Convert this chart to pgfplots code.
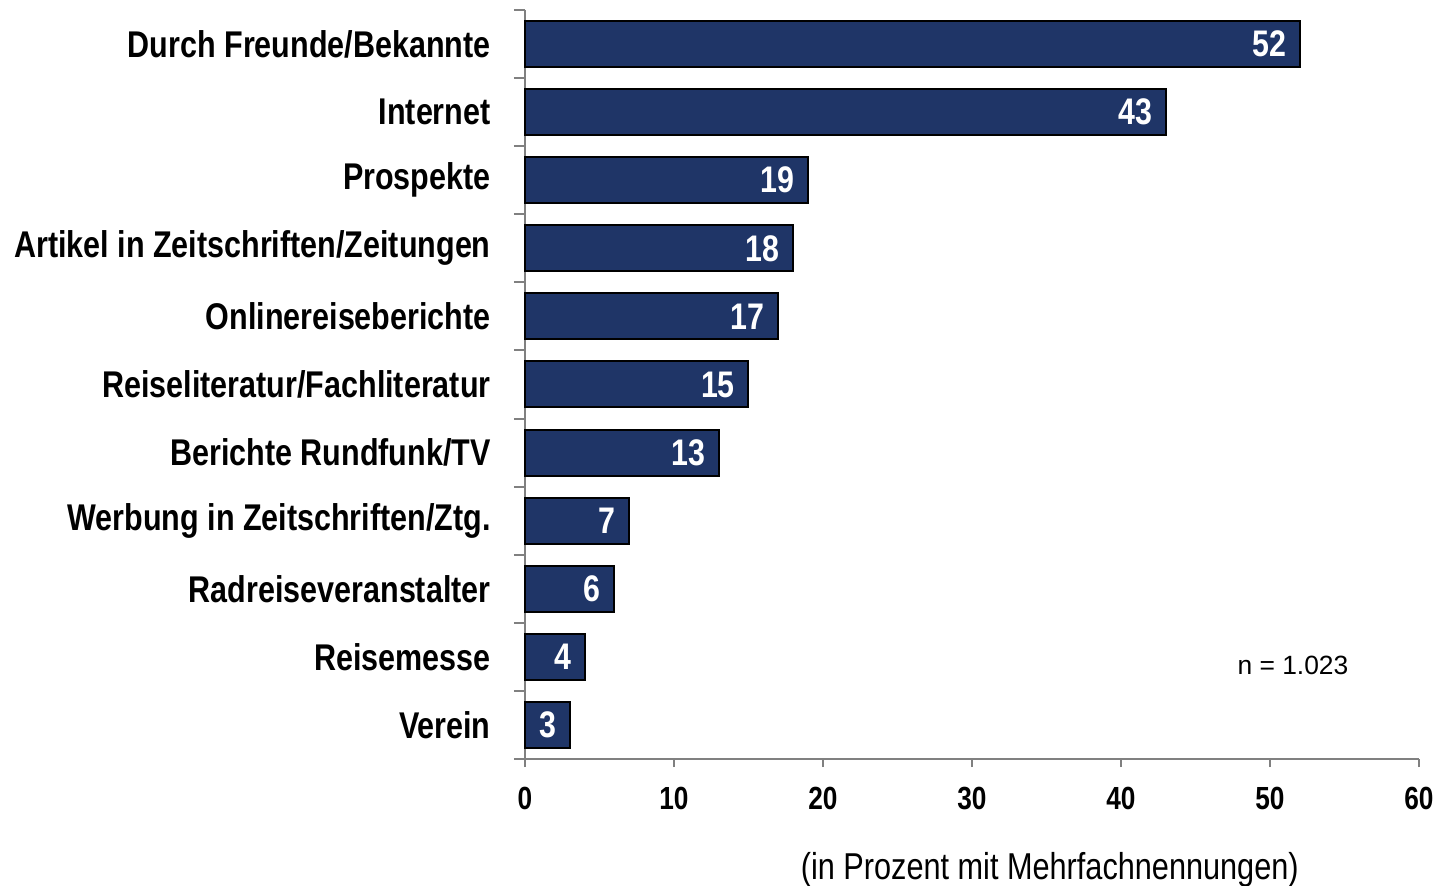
\documentclass[border=0pt]{standalone}
\usepackage{pgfplots}
\pgfplotsset{compat=1.18}
\usepackage{fontspec}
\setmainfont{Liberation Sans}[FakeStretch=0.82]
\newfontfamily\arialreg{Liberation Sans}
\definecolor{barblue}{RGB}{31,53,103}
\definecolor{axgray}{RGB}{128,128,128}
\begin{document}
\begin{tikzpicture}
\begin{axis}[
  name=ax,
  scale only axis,
  width=447pt, height=374.5pt,
  xbar, bar width=23pt,
  xmin=0, xmax=60,
  ymin=-0.5, ymax=10.5,
  y dir=reverse,
  axis x line*=bottom, axis y line*=left,
  axis line style={axgray, line width=1pt},
  tick align=outside,
  xtick={0,10,...,60},
  x tick style={axgray, line width=1pt},
  major tick length=4pt,
  ytick={0,...,10},
  major y tick style={draw=none},
  minor ytick={-0.5,0.5,...,10.5},
  minor y tick style={axgray, line width=1pt},
  minor tick length=5.5pt,
  yticklabels={Durch Freunde/Bekannte, Internet, Prospekte, Artikel in Zeitschriften/Zeitungen, Onlinereiseberichte, Reiseliteratur/Fachliteratur, Berichte Rundfunk/TV, Werbung in Zeitschriften/Ztg., Radreiseveranstalter, Reisemesse, Verein},
  yticklabel style={font=\bfseries\fontsize{18.6}{21}\selectfont, inner sep=0pt, xshift=-13pt},
  xticklabel style={font=\bfseries\fontsize{16}{19}\selectfont, inner sep=0pt, yshift=-10pt},
  /pgf/number format/assume math mode=true,
  nodes near coords,
  every node near coord/.append style={anchor=east, xshift=-3pt, text=white, font=\bfseries\fontsize{18.5}{20}\selectfont},
  clip=false,
]
\addplot[fill=barblue, draw=black, line width=1pt] coordinates {
(52,0) (43,1) (19,2) (18,3) (17,4) (15,5) (13,6) (7,7) (6,8) (4,9) (3,10)
};
\node[font=\arialreg\fontsize{13.2}{16}\selectfont] at (rel axis cs:0.859,0.1255) {n = 1.023};
\node[font=\fontsize{18.7}{21}\selectfont] at ([yshift=-55.5pt]rel axis cs:0.587,0) {(in Prozent mit Mehrfachnennungen)};
\end{axis}
\pgfresetboundingbox
\path[use as bounding box] ([xshift=-262.5pt,yshift=-63.5pt]ax.south west) rectangle ([xshift=10pt,yshift=5pt]ax.north east);
\end{tikzpicture}
\end{document}
